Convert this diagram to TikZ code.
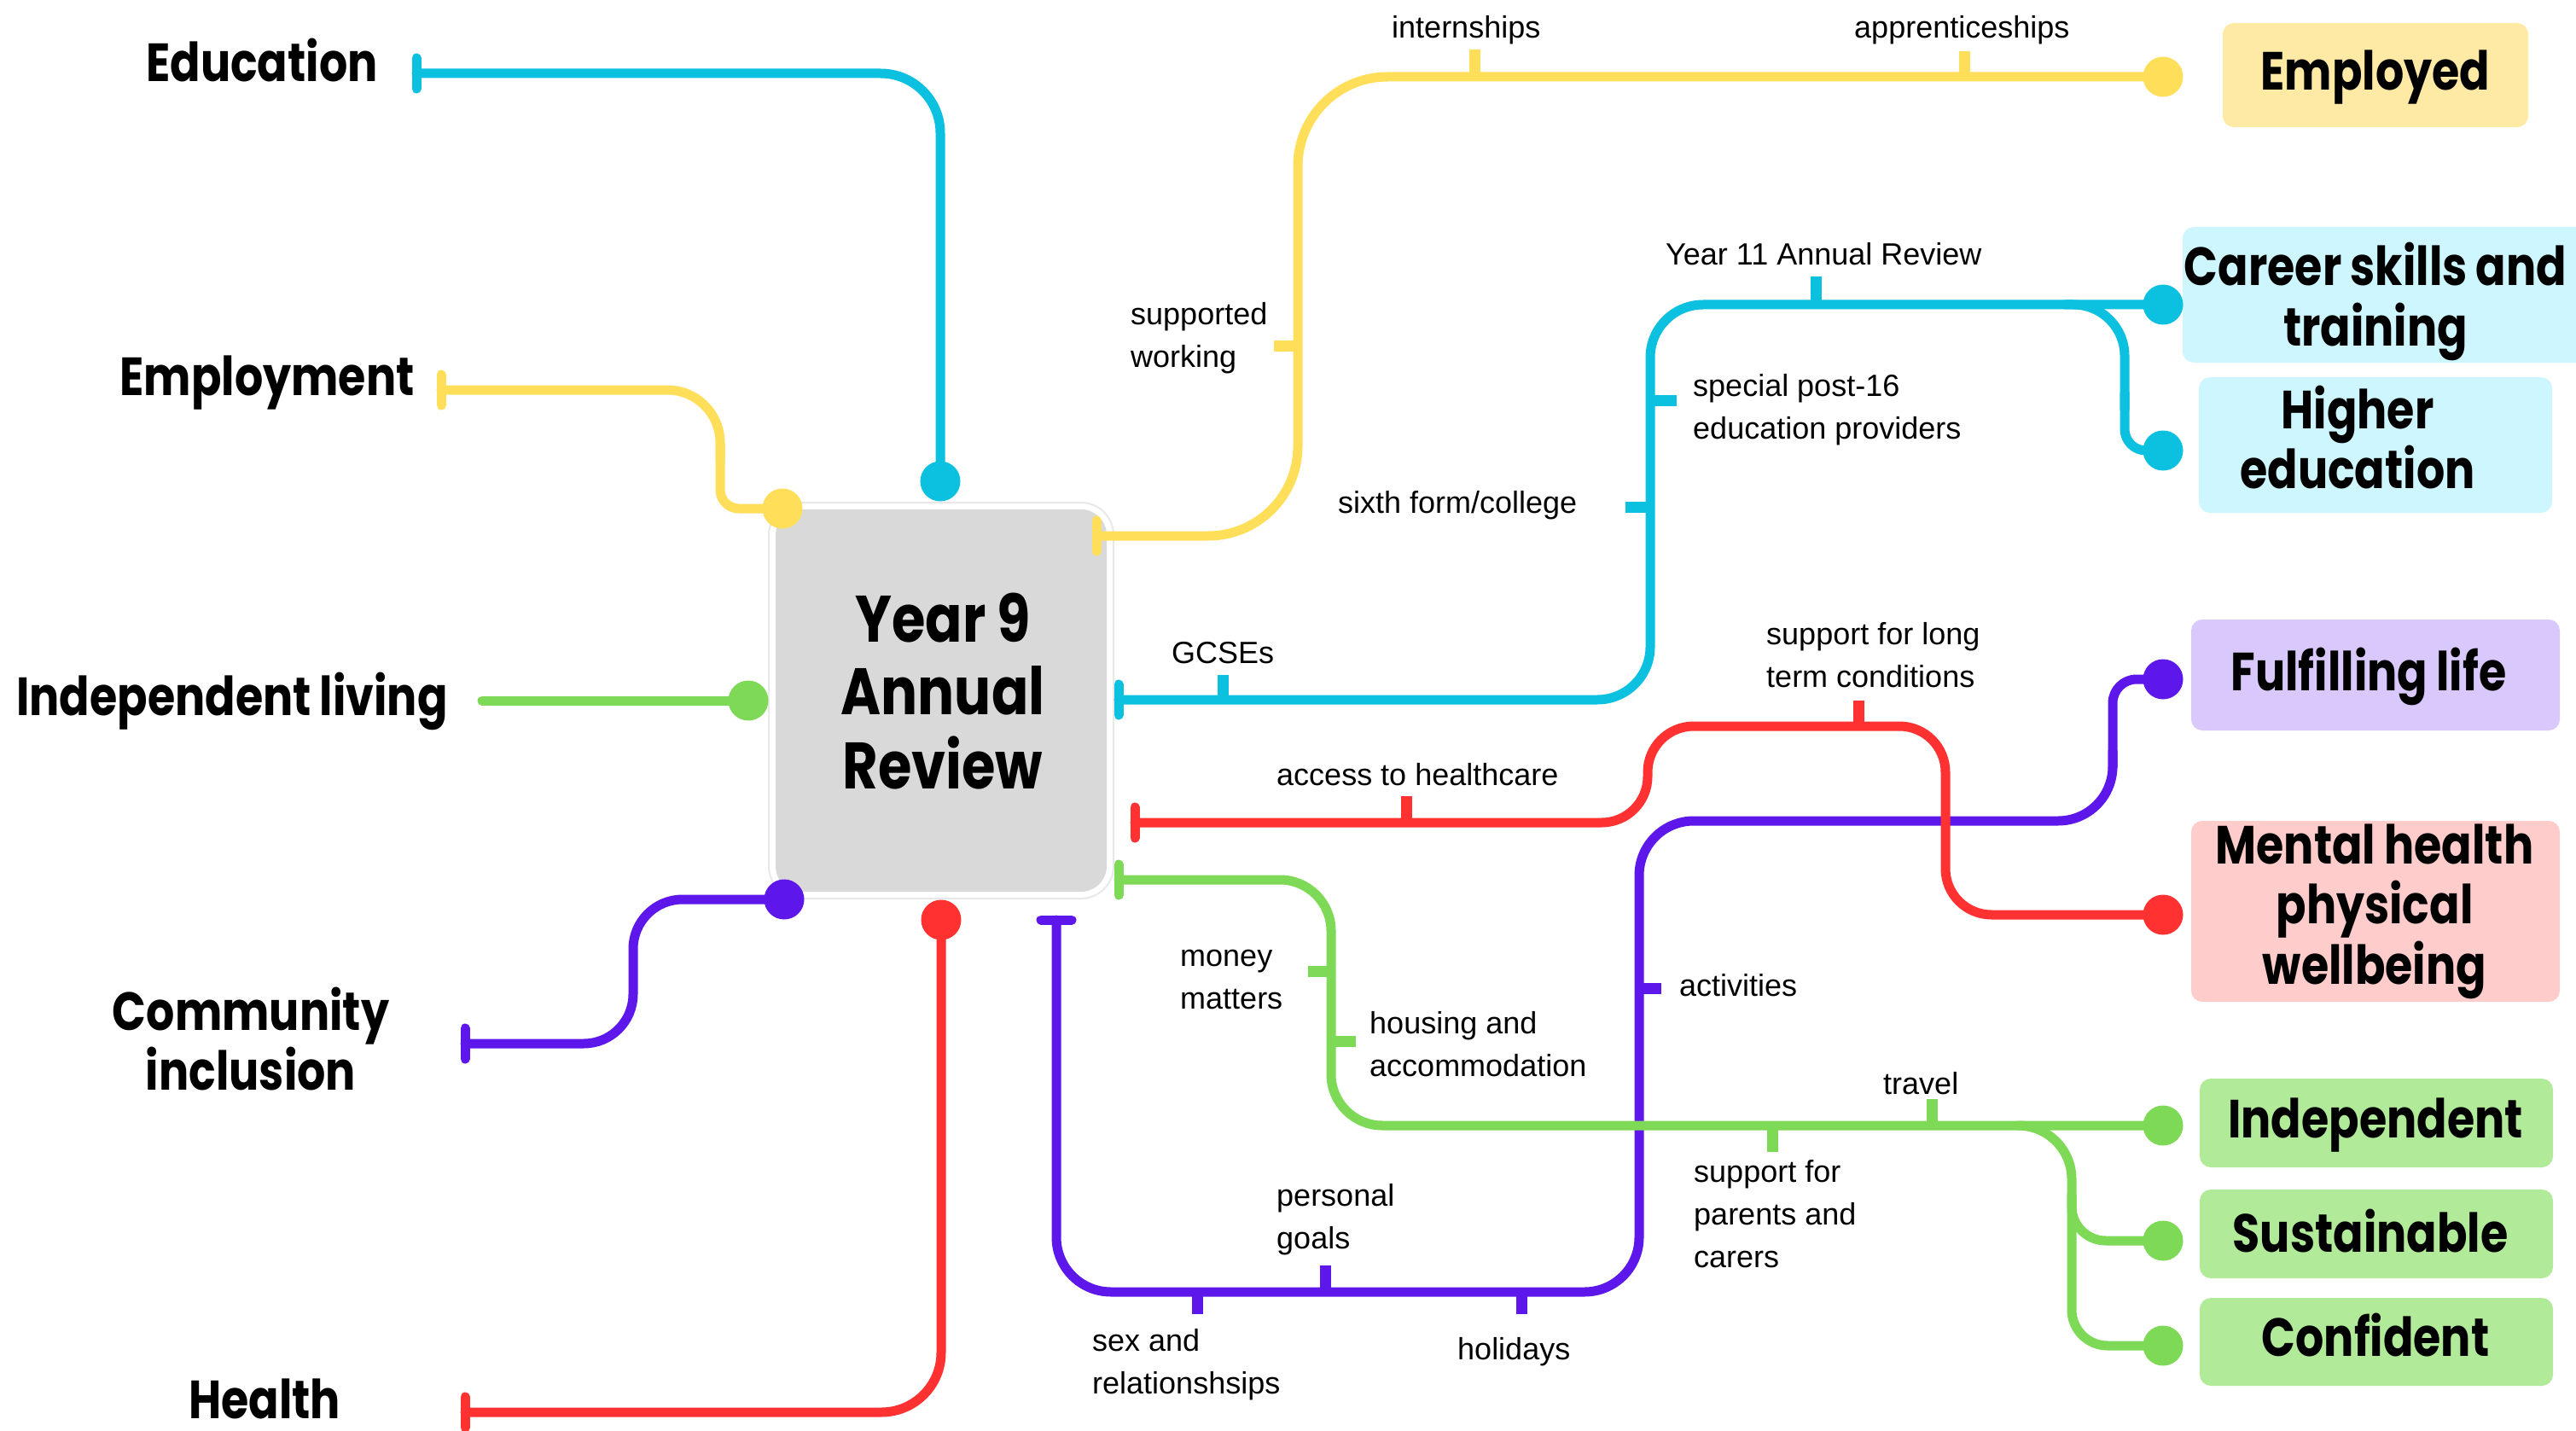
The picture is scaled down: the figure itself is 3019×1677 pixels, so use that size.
\documentclass[tikz,border=0pt]{standalone}
\usepackage{fontspec}
\setmainfont{Liberation Sans}
\newfontfamily\hfont{Poppins}[FakeStretch=0.83,WordSpace=0.92]
\definecolor{cBlue}{HTML}{0CC0DF}
\definecolor{cYellow}{HTML}{FFDE59}
\definecolor{cGreen}{HTML}{7ED957}
\definecolor{cPurple}{HTML}{5E17EB}
\definecolor{cRed}{HTML}{FF3131}
\definecolor{cGrey}{HTML}{D9D9D9}
\definecolor{cBoxLine}{HTML}{E8E8E8}
\definecolor{lYellow}{HTML}{FFEAA5}
\definecolor{lBlue}{HTML}{CDF6FE}
\definecolor{lPurple}{HTML}{D8C8FB}
\definecolor{lRed}{HTML}{FFCCCC}
\definecolor{lGreen}{HTML}{B1EA99}
\pgfdeclarelayer{back}
\pgfdeclarelayer{lines}
\pgfsetlayers{back,lines,main}
\tikzset{
  metro/.style={line width=11pt, line cap=round, line join=round},
  teebar/.style={line width=11pt, line cap=round},
  tickmark/.style={line width=13pt, line cap=butt},
  dot/.style={circle, minimum size=47pt, inner sep=0pt},
  bigtext/.style={font=\hfont\bfseries\fontsize{63}{68}\selectfont, inner sep=0pt, anchor=base},
  centretext/.style={font=\hfont\bfseries\fontsize{77}{85}\selectfont, inner sep=0pt, anchor=base},
  smalltext/.style={font=\fontsize{36}{50}\selectfont, inner sep=0pt, anchor=base west},
  resultbox/.style={rectangle, rounded corners=13pt, inner sep=0pt},
}
\begin{document}
\begin{tikzpicture}[x=1pt,y=-1pt]
\useasboundingbox (0,0) rectangle (3019,1677);

% ---------- dots ----------
\node[dot, fill=cBlue]   (dEdu)  at (1102,564) {};
\node[dot, fill=cYellow] (dEmp)  at (917,596) {};
\node[dot, fill=cGreen]  (dIL)   at (877,821) {};
\node[dot, fill=cPurple] (dCI)   at (919,1054) {};
\node[dot, fill=cRed]    (dH)    at (1103,1078) {};
\node[dot, fill=cYellow] (dEmpd) at (2535,90) {};
\node[dot, fill=cBlue]   (dCST)  at (2535,357) {};
\node[dot, fill=cBlue]   (dHE)   at (2535,528) {};
\node[dot, fill=cPurple] (dFL)   at (2535,796) {};
\node[dot, fill=cRed]    (dMH)   at (2535,1072) {};
\node[dot, fill=cGreen]  (dInd)  at (2535,1319) {};
\node[dot, fill=cGreen]  (dSus)  at (2535,1454) {};
\node[dot, fill=cGreen]  (dConf) at (2535,1577) {};

% ---------- free ends ----------
\coordinate (teeEdu) at (488,86);
\coordinate (teeEmp) at (517,457);
\coordinate (startIL) at (565,821);
\coordinate (teeCI) at (545,1223);
\coordinate (teeH) at (545,1655);
\coordinate (teeY) at (1285,628);
\coordinate (teeB) at (1311,820);
\coordinate (teeR) at (1330,964);
\coordinate (teeP) at (1238,1078);
\coordinate (teeG) at (1311,1031);

% ---------- central box ----------
\begin{pgfonlayer}{back}
\node[draw=cBoxLine, line width=2pt, fill=white, rounded corners=38pt,
      minimum width=404pt, minimum height=464pt, inner sep=0pt] (cbOuter) at (1103,821) {};
\node[fill=cGrey, rounded corners=30pt, minimum width=388pt, minimum height=448pt,
      inner sep=0pt] (cbox) at (1103,821) {};
% result boxes
\node[resultbox, fill=lYellow, minimum width=358pt, minimum height=122pt] (bEmployed) at (2784,88) {};
\node[resultbox, fill=lBlue, minimum width=482pt, minimum height=159pt] (bCareer) at (2799,345.5) {};
\node[resultbox, fill=lBlue, minimum width=414pt, minimum height=159pt] (bHigher) at (2784,521.5) {};
\node[resultbox, fill=lPurple, minimum width=432pt, minimum height=130pt] (bFulfil) at (2784,791) {};
\node[resultbox, fill=lRed, minimum width=432pt, minimum height=212pt] (bMental) at (2784,1068) {};
\node[resultbox, fill=lGreen, minimum width=414pt, minimum height=104pt] (bInd) at (2785,1316) {};
\node[resultbox, fill=lGreen, minimum width=414pt, minimum height=104pt] (bSus) at (2785,1446) {};
\node[resultbox, fill=lGreen, minimum width=414pt, minimum height=103pt] (bConf) at (2785,1572.5) {};
\end{pgfonlayer}

\begin{pgfonlayer}{lines}
% ---------- left connectors ----------
\draw[metro, cBlue, rounded corners=70pt] (teeEdu) -| (dEdu.center);
\draw[teebar, cBlue] (teeEdu) ++(0,-18) -- ++(0,36);

\draw[metro, cYellow, rounded corners=62pt] (teeEmp) -| (844,540);
\draw[metro, cYellow, rounded corners=22pt] (844,520) |- (dEmp.center);
\draw[teebar, cYellow] (teeEmp) ++(0,-18) -- ++(0,36);

\draw[metro, cGreen] (startIL) -- (dIL.center);

\draw[metro, cPurple, rounded corners=58pt] (teeCI) -| (742,1054) -- (dCI.center);
\draw[teebar, cPurple] (teeCI) ++(0,-18) -- ++(0,36);

\draw[metro, cRed, rounded corners=70pt] (teeH) -| (dH.center);
\draw[teebar, cRed] (teeH) ++(0,-18) -- ++(0,36);

% ---------- purple (right) ----------
\draw[metro, cPurple, rounded corners=64pt] (teeP) |- (1921,1514) |- (2476,962) -- (2476,880);
\draw[metro, cPurple, rounded corners=28pt] (2476,900) |- (dFL.center);
\draw[teebar, cPurple] (teeP) ++(-18,0) -- ++(36,0);
\draw[tickmark, cPurple] (1403,1514) -- (1403,1540);
\draw[tickmark, cPurple] (1553,1514) -- (1553,1483);
\draw[tickmark, cPurple] (1783,1514) -- (1783,1540);
\draw[tickmark, cPurple] (1921,1158) -- (1947,1158);

% ---------- yellow (right) ----------
\draw[metro, cYellow, rounded corners=105pt] (teeY) -| (1521,90) -- (dEmpd.center);
\draw[teebar, cYellow] (teeY) ++(0,-18) -- ++(0,36);
\draw[tickmark, cYellow] (1521,405) -- (1493,405);
\draw[tickmark, cYellow] (1728,90) -- (1728,58);
\draw[tickmark, cYellow] (2302,90) -- (2302,60);

% ---------- blue (right) ----------
\draw[metro, cBlue, rounded corners=62pt] (teeB) -| (1934,357) -- (dCST.center);
\draw[metro, cBlue, rounded corners=60pt] (2420,357) -| (2490,480);
\draw[metro, cBlue, rounded corners=25pt] (2490,460) |- (dHE.center);
\draw[teebar, cBlue] (teeB) ++(0,-18) -- ++(0,36);
\draw[tickmark, cBlue] (1433,820) -- (1433,791);
\draw[tickmark, cBlue] (1934,594) -- (1905,594);
\draw[tickmark, cBlue] (1934,469) -- (1965,469);
\draw[tickmark, cBlue] (2128,357) -- (2128,324);

% ---------- red (right) ----------
\draw[metro, cRed, rounded corners=54pt] (teeR) -| (1931,851) -| (2280,1072) -- (dMH.center);
\draw[teebar, cRed] (teeR) ++(0,-18) -- ++(0,36);
\draw[tickmark, cRed] (1648,964) -- (1648,933);
\draw[tickmark, cRed] (2178,851) -- (2178,821);

% ---------- green (right) ----------
\draw[metro, cGreen, rounded corners=60pt] (teeG) -| (1560,1319) -- (dInd.center);
\draw[metro, cGreen, rounded corners=63pt] (2365,1319) -| (2428,1420);
\draw[metro, cGreen, rounded corners=40pt] (2428,1400) |- (dSus.center);
\draw[metro, cGreen, rounded corners=42pt] (2428,1420) |- (dConf.center);
\draw[teebar, cGreen] (teeG) ++(0,-18) -- ++(0,36);
\draw[tickmark, cGreen] (1560,1138) -- (1533,1138);
\draw[tickmark, cGreen] (1560,1220) -- (1589,1220);
\draw[tickmark, cGreen] (2077,1319) -- (2077,1350);
\draw[tickmark, cGreen] (2264,1319) -- (2264,1288);
\end{pgfonlayer}

% ---------- big labels ----------
\node[centretext] (tCentre) at (1105,752) {\begin{tabular}[t]{@{}c@{}}Year 9\\Annual\\Review\end{tabular}};
\node[bigtext] (tEducation) at (307,96) {Education};
\node[bigtext] (tEmployment) at (313,463) {Employment};
\node[bigtext] (tIndLiving) at (272,838) {Independent living};
\node[bigtext] (tCommunity) at (294,1207) {\begin{tabular}[t]{@{}c@{}}Community\\inclusion\end{tabular}};
\node[bigtext] (tHealth) at (310,1662) {Health};

\node[bigtext] (tEmployed) at (2784,106) {Employed};
\node[bigtext] (tCareer) at (2784,335) {\begin{tabular}[t]{@{}c@{}}Career skills and\\training\end{tabular}};
\node[bigtext] (tHigher) at (2763,502) {\begin{tabular}[t]{@{}c@{}}Higher\\education\end{tabular}};
\node[bigtext] (tFulfil) at (2776,809) {Fulfilling life};
\node[bigtext] (tMental) at (2783,1012) {\begin{tabular}[t]{@{}c@{}}Mental health\\physical\\wellbeing\end{tabular}};
\node[bigtext] (tInd) at (2784,1333) {Independent};
\node[bigtext] (tSus) at (2778,1467) {Sustainable};
\node[bigtext] (tConf) at (2784,1589) {Confident};

% ---------- small labels ----------
\node[smalltext] (lInternships) at (1631,45) {internships};
\node[smalltext] (lApprentice) at (2173,45) {apprenticeships};
\node[smalltext] (lSupported) at (1325,381) {\begin{tabular}[t]{@{}l@{}}supported\\working\end{tabular}};
\node[smalltext] (lGCSE) at (1373,777) {GCSEs};
\node[smalltext] (lYear11) at (1952,311) {Year 11 Annual Review};
\node[smalltext] (lSpecial) at (1984,464) {\begin{tabular}[t]{@{}l@{}}special post-16\\education providers\end{tabular}};
\node[smalltext] (lSixth) at (1568,601) {sixth form/college};
\node[smalltext] (lLongTerm) at (2070,755) {\begin{tabular}[t]{@{}l@{}}support for long\\term conditions\end{tabular}};
\node[smalltext] (lAccess) at (1496,920) {access to healthcare};
\node[smalltext] (lMoney) at (1383,1132) {\begin{tabular}[t]{@{}l@{}}money\\matters\end{tabular}};
\node[smalltext] (lHousing) at (1605,1211) {\begin{tabular}[t]{@{}l@{}}housing and\\accommodation\end{tabular}};
\node[smalltext] (lActivities) at (1968,1167) {activities};
\node[smalltext] (lTravel) at (2207,1282) {travel};
\node[smalltext] (lParents) at (1985,1385) {\begin{tabular}[t]{@{}l@{}}support for\\parents and\\carers\end{tabular}};
\node[smalltext] (lPersonal) at (1496,1413) {\begin{tabular}[t]{@{}l@{}}personal\\goals\end{tabular}};
\node[smalltext] (lHolidays) at (1708,1593) {holidays};
\node[smalltext] (lSex) at (1280,1583) {\begin{tabular}[t]{@{}l@{}}sex and\\relationshsips\end{tabular}};
\end{tikzpicture}
\end{document}
